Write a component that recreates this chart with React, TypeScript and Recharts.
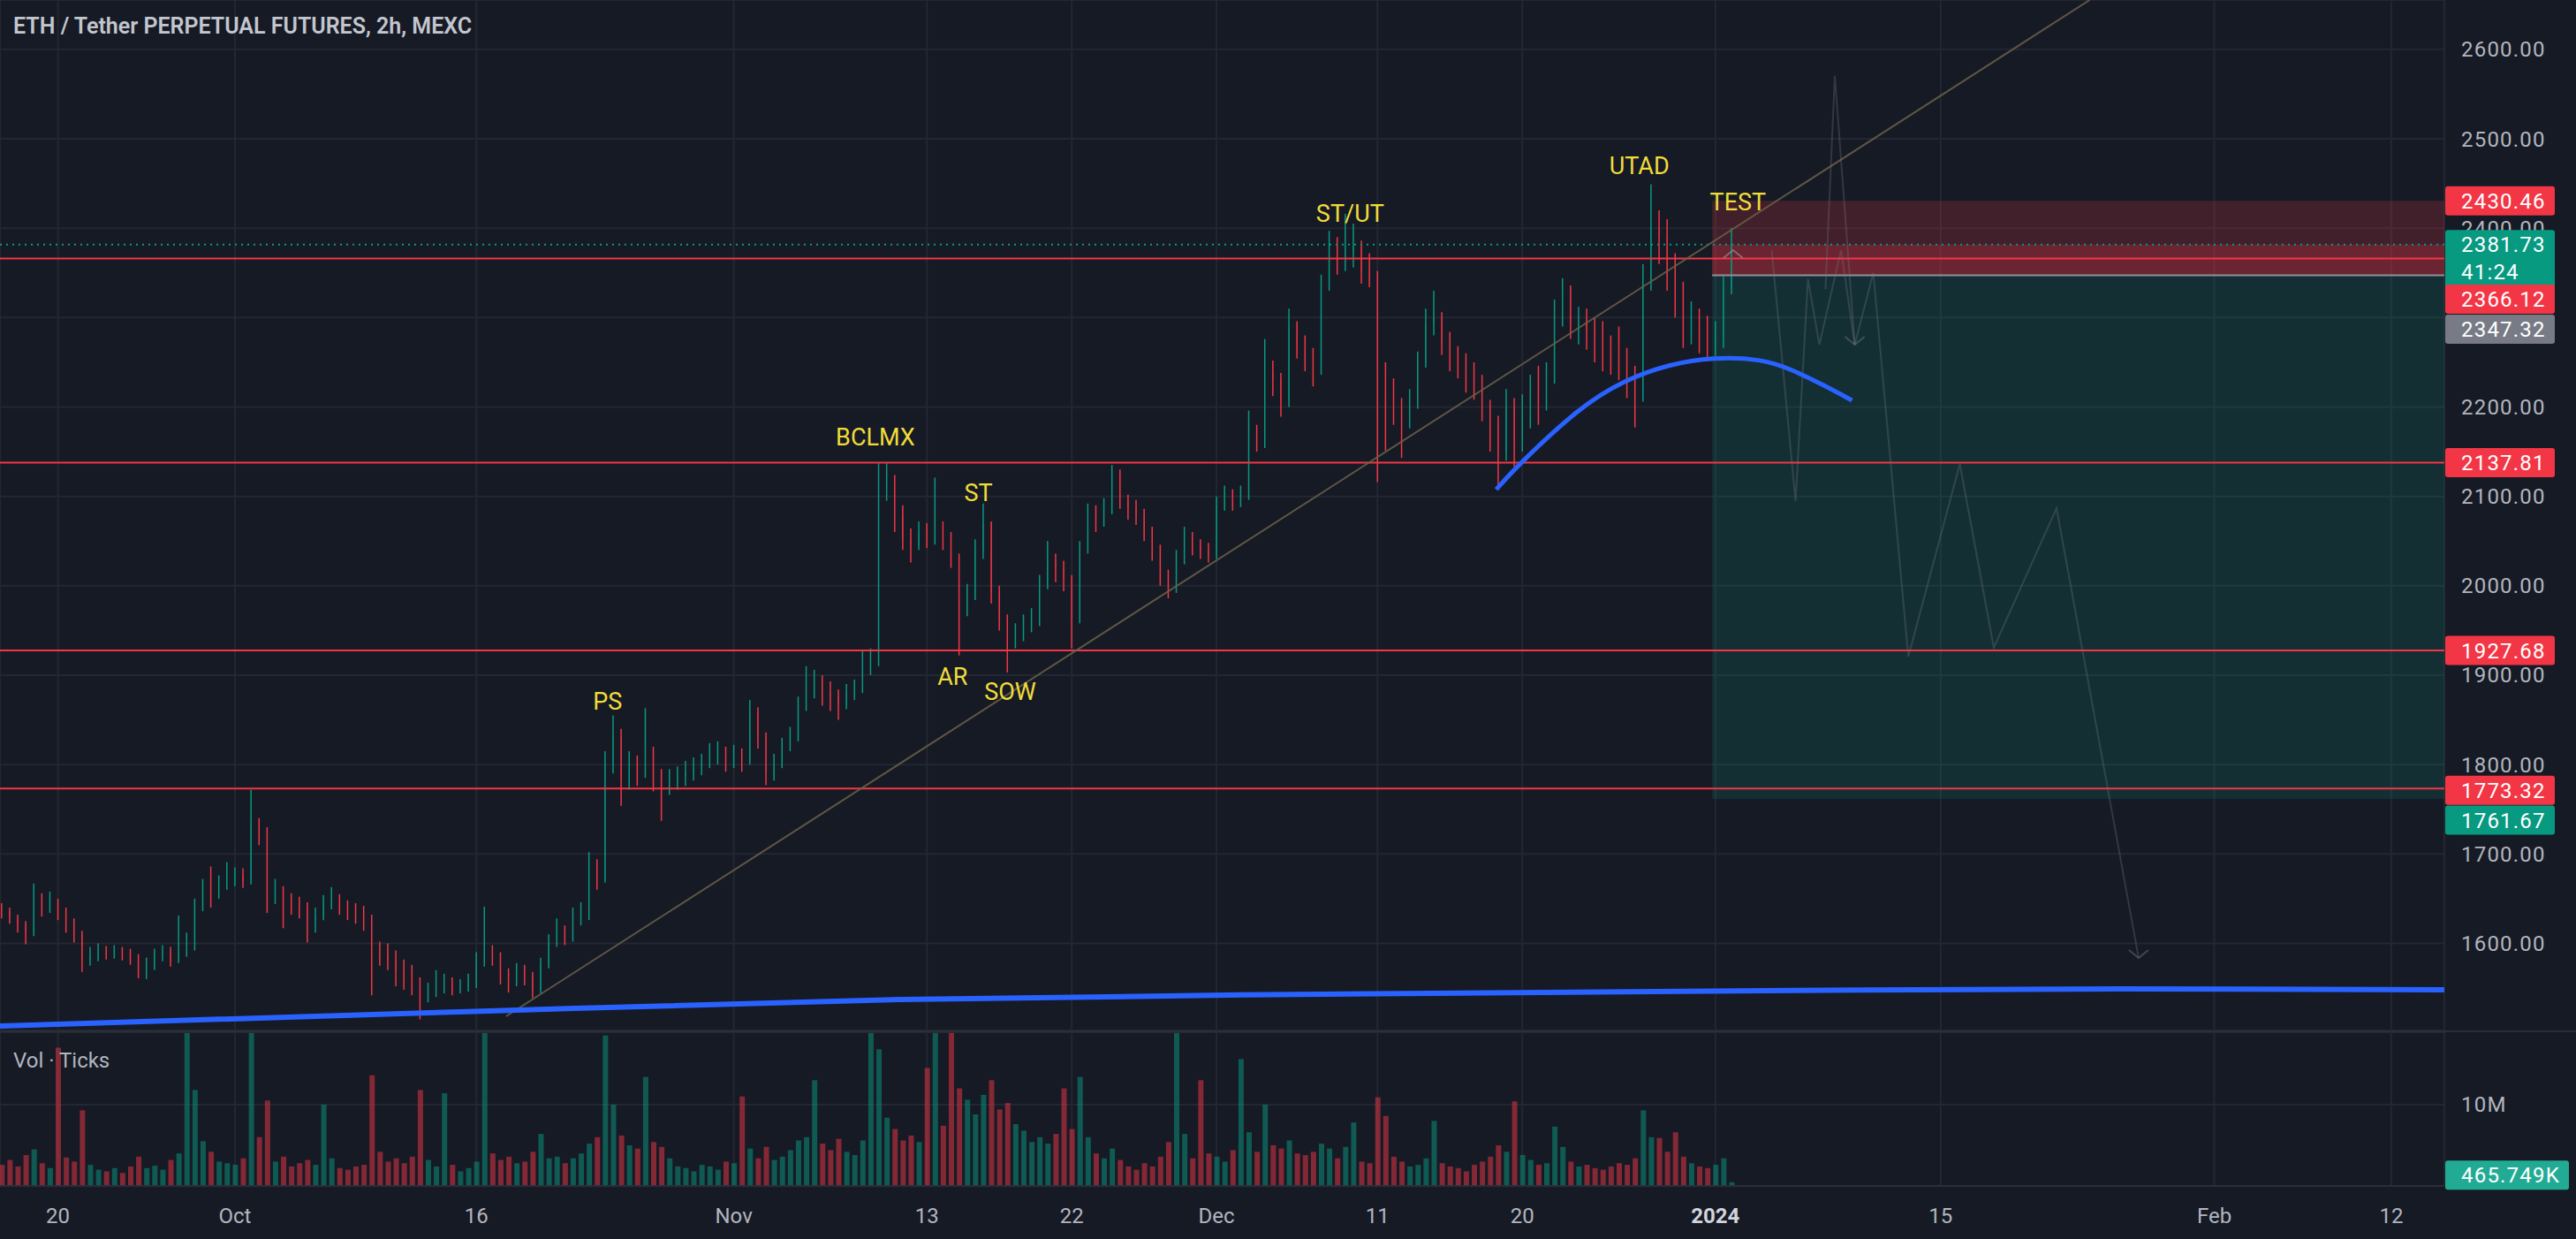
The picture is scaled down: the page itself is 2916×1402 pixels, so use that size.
import React from 'react'
import {
  Bar,
  CartesianGrid,
  ComposedChart,
  Line,
  ReferenceArea,
  ReferenceDot,
  ReferenceLine,
  XAxis,
  YAxis,
} from 'recharts'

// time axis: days counted from Oct 1 2023; one candle per 12h
const FIRST_BAR_DAY = -14.5
const BAR_STEP = 0.5
const FIRST_OPEN = 1640

const closes = [
  1636, 1628, 1620, 1612, 1650, 1640, 1646, 1636, 1622, 1610,
  1582, 1586, 1592, 1588, 1591, 1588, 1584, 1568, 1575, 1588,
  1590, 1580, 1592, 1598, 1640, 1662, 1654, 1668, 1672, 1676,
  1670, 1735, 1722, 1652, 1662, 1648, 1642, 1640, 1626, 1630,
  1646, 1650, 1640, 1636, 1632, 1628, 1592, 1588, 1580, 1570,
  1566, 1558, 1546, 1546, 1552, 1554, 1550, 1552, 1556, 1576,
  1590, 1584, 1568, 1556, 1568, 1564, 1548, 1576, 1600, 1610,
  1606, 1628, 1632, 1690, 1672, 1800, 1832, 1782, 1800, 1792,
  1815, 1786, 1772, 1782, 1786, 1792, 1796, 1802, 1810, 1815,
  1806, 1810, 1806, 1858, 1832, 1792, 1800, 1818, 1832, 1866,
  1886, 1890, 1880, 1876, 1866, 1880, 1886, 1906, 1916, 2112,
  2118, 2080, 2052, 2045, 2060, 2054, 2064, 2052, 2030, 1980,
  1986, 2040, 2070, 1992, 1962, 1942, 1946, 1958, 1962, 2000,
  2026, 2020, 2008, 1962, 2040, 2080, 2070, 2086, 2125, 2096,
  2086, 2080, 2062, 2040, 2010, 1996, 2030, 2055, 2046, 2040,
  2036, 2090, 2100, 2094, 2100, 2170, 2160, 2240, 2230, 2206,
  2290, 2270, 2258, 2240, 2340, 2376, 2364, 2372, 2380, 2352,
  2346, 2232, 2220, 2196, 2186, 2204, 2250, 2292, 2300, 2272,
  2256, 2246, 2232, 2226, 2200, 2170, 2150, 2200, 2162, 2190,
  2212, 2200, 2232, 2300, 2330, 2292, 2296, 2286, 2276, 2270,
  2266, 2256, 2230, 2216, 2340, 2400, 2390, 2350, 2330, 2290,
  2296, 2286, 2270, 2276, 2332, 2381.73,
]

const highs = [
  1645, 1640, 1632, 1625, 1667, 1656, 1658, 1650, 1640, 1628,
  1614, 1596, 1600, 1597, 1598, 1596, 1594, 1588, 1584, 1594,
  1598, 1596, 1631, 1612, 1650, 1672, 1686, 1676, 1691, 1685,
  1684, 1772, 1740, 1730, 1672, 1664, 1656, 1652, 1646, 1640,
  1654, 1663, 1655, 1648, 1645, 1642, 1632, 1602, 1600, 1592,
  1582, 1576, 1562, 1556, 1570, 1566, 1562, 1560, 1566, 1590,
  1641, 1598, 1590, 1572, 1578, 1576, 1568, 1584, 1610, 1628,
  1620, 1640, 1646, 1702, 1694, 1815, 1855, 1840, 1815, 1810,
  1863, 1820, 1795, 1795, 1798, 1804, 1808, 1812, 1824, 1826,
  1820, 1822, 1818, 1872, 1864, 1836, 1812, 1830, 1842, 1876,
  1910, 1906, 1900, 1893, 1884, 1890, 1895, 1928, 1930, 2137,
  2137, 2124, 2090, 2064, 2072, 2070, 2121, 2072, 2060, 2036,
  2002, 2052, 2092, 2072, 2000, 1968, 1958, 1968, 1975, 2012,
  2050, 2036, 2028, 2012, 2050, 2092, 2090, 2098, 2135, 2130,
  2102, 2096, 2086, 2066, 2046, 2018, 2040, 2066, 2060, 2052,
  2048, 2100, 2112, 2108, 2112, 2196, 2180, 2276, 2252, 2238,
  2310, 2296, 2280, 2266, 2348, 2397, 2390, 2416, 2405, 2386,
  2372, 2352, 2250, 2232, 2210, 2220, 2262, 2310, 2330, 2306,
  2284, 2268, 2260, 2250, 2236, 2208, 2190, 2220, 2210, 2214,
  2236, 2246, 2250, 2320, 2344, 2336, 2312, 2310, 2300, 2296,
  2280, 2290, 2266, 2246, 2360, 2449, 2420, 2410, 2372, 2340,
  2318, 2310, 2302, 2296, 2346, 2400,
]

const lows = [
  1628, 1622, 1612, 1599, 1608, 1630, 1634, 1626, 1612, 1601,
  1568, 1575, 1580, 1582, 1583, 1581, 1576, 1561, 1560, 1570,
  1580, 1574, 1578, 1585, 1592, 1636, 1640, 1650, 1660, 1664,
  1662, 1666, 1710, 1634, 1644, 1617, 1632, 1628, 1601, 1612,
  1626, 1638, 1632, 1626, 1622, 1614, 1542, 1575, 1570, 1552,
  1548, 1542, 1515, 1534, 1540, 1544, 1542, 1544, 1546, 1550,
  1574, 1575, 1554, 1545, 1552, 1553, 1539, 1544, 1572, 1596,
  1598, 1602, 1620, 1626, 1660, 1668, 1790, 1754, 1772, 1776,
  1785, 1770, 1737, 1766, 1772, 1776, 1782, 1788, 1796, 1800,
  1792, 1796, 1792, 1800, 1818, 1777, 1782, 1796, 1815, 1826,
  1860, 1874, 1866, 1860, 1850, 1862, 1872, 1880, 1900, 1910,
  2095, 2060, 2040, 2026, 2040, 2042, 2046, 2040, 2020, 1922,
  1966, 1984, 2030, 1980, 1950, 1903, 1930, 1938, 1948, 1955,
  1996, 2004, 1994, 1930, 1958, 2036, 2060, 2066, 2080, 2086,
  2074, 2068, 2050, 2028, 2000, 1986, 1992, 2024, 2034, 2030,
  2026, 2030, 2084, 2084, 2088, 2096, 2150, 2154, 2212, 2189,
  2200, 2254, 2240, 2223, 2236, 2330, 2348, 2352, 2356, 2338,
  2334, 2116, 2151, 2180, 2143, 2176, 2198, 2244, 2280, 2258,
  2240, 2232, 2216, 2208, 2184, 2150, 2113, 2140, 2133, 2150,
  2176, 2180, 2196, 2226, 2290, 2276, 2270, 2264, 2250, 2240,
  2236, 2230, 2210, 2177, 2206, 2330, 2360, 2330, 2300, 2266,
  2270, 2260, 2252, 2257, 2266, 2326,
]

// volume in millions
const volumes = [
  2.6, 3.2, 2.4, 3.8, 4.5, 2.8, 2.2, 17.0, 3.5, 3.0,
  9.3, 2.6, 2.0, 1.8, 2.2, 1.6, 2.4, 3.6, 2.2, 2.5,
  2.0, 3.2, 4.0, 18.8, 11.8, 5.5, 4.2, 3.0, 2.8, 2.6,
  3.4, 18.8, 6.0, 10.5, 3.0, 3.6, 2.4, 2.8, 3.2, 2.6,
  10.0, 3.4, 2.2, 2.0, 2.4, 2.6, 13.6, 4.2, 3.0, 3.4,
  2.8, 3.6, 11.8, 3.2, 2.4, 11.4, 2.6, 1.8, 2.2, 3.0,
  18.8, 4.0, 3.2, 3.6, 2.8, 3.0, 4.2, 6.4, 3.4, 3.6,
  2.8, 3.4, 4.0, 5.2, 6.0, 18.5, 10.0, 6.2, 5.0, 4.6,
  13.4, 5.4, 4.8, 3.4, 2.4, 2.2, 1.8, 2.6, 2.4, 2.0,
  3.0, 2.8, 11.0, 4.6, 3.4, 4.8, 3.2, 3.6, 4.4, 5.6,
  6.0, 13.0, 5.2, 4.4, 5.8, 4.2, 3.8, 5.6, 18.8, 16.8,
  8.4, 7.0, 5.6, 6.2, 5.4, 14.5, 18.8, 7.4, 18.8, 12.0,
  10.6, 8.8, 11.2, 13.0, 9.4, 10.2, 7.6, 6.8, 5.4, 6.0,
  5.2, 6.4, 12.0, 7.0, 13.4, 6.0, 4.0, 3.4, 4.6, 3.2,
  2.4, 2.0, 2.8, 2.4, 3.6, 5.4, 18.8, 6.4, 3.4, 13.0,
  4.0, 3.6, 3.0, 4.4, 15.6, 6.6, 4.2, 10.0, 5.0, 4.6,
  5.6, 4.0, 3.8, 4.2, 5.2, 4.6, 3.4, 4.8, 7.8, 3.0,
  2.8, 10.9, 8.6, 3.6, 3.0, 2.4, 2.6, 3.4, 8.0, 2.8,
  2.4, 2.2, 1.8, 2.6, 3.0, 3.6, 5.0, 4.2, 10.4, 3.8,
  3.2, 2.6, 2.8, 7.3, 4.8, 3.0, 2.4, 2.6, 2.2, 2.0,
  2.4, 2.8, 2.6, 3.4, 9.3, 6.0, 5.9, 4.2, 6.6, 3.6,
  2.8, 2.4, 2.2, 2.6, 3.4, 0.465749,
]

const dateTicks = [-11, 0, 15, 31, 43, 52, 61, 71, 80, 92, 106, 123, 134]
const dateLabels = ['20', 'Oct', '16', 'Nov', '13', '22', 'Dec', '11', '20', '2024', '15', 'Feb', '12']
const priceTicks = [1600, 1700, 1800, 1900, 2000, 2100, 2200, 2300, 2400, 2500, 2600]
// axis labels that sit under the price tags on the scale
const coveredTicks = [2300, 2400]
const peekingTick = 2400

const redLevels = [2366.12, 2137.81, 1927.68, 1773.32]
const stopPrice = 2430.46
const entryPrice = 2347.32
const targetPrice = 1761.67
const positionStart = 91.8
const countdown = '41:24'

const baseCurve = [
  { t: -14.6, p: 1507.6 }, { t: 13.94, p: 1523.4 }, { t: 41.38, p: 1537.2 },
  { t: 67.73, p: 1543.2 }, { t: 95.17, p: 1547.1 }, { t: 117.1, p: 1549.1 },
  { t: 137.3, p: 1548.1 },
]
const arcCurve = [
  { t: 78.38, p: 2107.6 }, { t: 79.64, p: 2133.3 }, { t: 83.53, p: 2199.5 },
  { t: 86.33, p: 2230.1 }, { t: 89.13, p: 2247.9 }, { t: 91.88, p: 2255.8 },
  { t: 94.84, p: 2253.9 }, { t: 96.76, p: 2242 }, { t: 98.74, p: 2224.2 },
  { t: 100.49, p: 2207.4 },
]
const trendLine = [{ t: 16.85, p: 1518.4 }, { t: 115.26, p: 2655.2 }]
const pathA = [
  { t: 95.5, p: 2375.4 }, { t: 96.98, p: 2094.7 }, { t: 97.75, p: 2343.2 },
  { t: 98.46, p: 2269.7 }, { t: 99.81, p: 2375.4 }, { t: 100.66, p: 2269.7 },
]
const pathB = [{ t: 98.84, p: 2331.9 }, { t: 99.42, p: 2570.4 }, { t: 100.66, p: 2269.7 }]
const pathC = [
  { t: 100.66, p: 2269.7 }, { t: 101.81, p: 2350 }, { t: 103.99, p: 1920.7 },
  { t: 107.19, p: 2136.2 }, { t: 109.3, p: 1930.6 }, { t: 113.2, p: 2086.8 },
  { t: 118.3, p: 1583.7 },
]
const arrowDown = [{ t: 100.66, p: 2269.7 }, { t: 118.3, p: 1583.7 }]
const arrowUp = { t: 93.1, p: 2375.4 }

const marks = [
  { t: 23.16, p: 1870.3, text: 'PS' },
  { t: 39.8, p: 2166.2, text: 'BCLMX' },
  { t: 46.2, p: 2103.6, text: 'ST' },
  { t: 44.6, p: 1898, text: 'AR' },
  { t: 48.17, p: 1881.2, text: 'SOW' },
  { t: 69.3, p: 2416.2, text: 'ST/UT' },
  { t: 87.27, p: 2469.5, text: 'UTAD' },
  { t: 93.4, p: 2429.1, text: 'TEST' },
]

const candles = closes.map((c, i) => ({
  t: FIRST_BAR_DAY + i * BAR_STEP,
  o: i === 0 ? FIRST_OPEN : closes[i - 1],
  h: highs[i],
  l: lows[i],
  c,
  range: [lows[i], highs[i]],
  v: volumes[i],
}))
const lastPrice = closes[closes.length - 1]
const lastVolume = volumes[volumes.length - 1]

const W = 2916
const PRICE_H = 1166
const VOL_H = 234
const AXIS_W = 149
const X_DOMAIN: [number, number] = [-14.6, 137.3]

const BG = '#161a25'
const GRID = '#232733'
const TEXT = '#b2b5be'
const UP = '#089981'
const DOWN = '#f23645'
const YELLOW = '#f0dc3a'
const BLUE = '#2962ff'
const FONT = 'Roboto, "Noto Sans", sans-serif'

function Candle(props: any) {
  const { x, y, width, height, payload } = props
  if (!payload || height == null) return <g />
  const top = Math.min(y, y + height)
  const span = Math.abs(height)
  const { o, c, h, l } = payload
  const k = span / (h - l || 1)
  const yo = top + (h - o) * k
  const yc = top + (h - c) * k
  const color = c >= o ? UP : DOWN
  const mid = x + width / 2
  return (
    <g>
      <line x1={mid} x2={mid} y1={top} y2={top + span} stroke={color} strokeWidth={1.5} />
      <rect
        x={x}
        y={Math.min(yo, yc)}
        width={width}
        height={Math.max(Math.abs(yc - yo), 1.5)}
        fill={color}
      />
    </g>
  )
}

function VolBar(props: any) {
  const { x, y, width, height, payload } = props
  if (!payload) return <g />
  const up = payload.c >= payload.o
  return (
    <rect
      x={x}
      y={Math.min(y, y + height)}
      width={width}
      height={Math.abs(height)}
      fill={up ? UP : DOWN}
      fillOpacity={0.5}
    />
  )
}

function priceTag(text: string, bg: string, opts: { shift?: number; sub?: string; w?: number } = {}) {
  const { shift = 0, sub, w = 124 } = opts
  return (props: any) => {
    const vb = props.viewBox || props
    const x = vb.x + vb.width + 1
    const cy = vb.y + shift
    return (
      <g>
        <rect x={x} y={cy - 16.5} width={w} height={sub ? 66 : 33} rx={3} fill={bg} />
        <text
          x={x + 18}
          y={cy}
          dy="0.36em"
          fill="#ffffff"
          fontSize={24}
          letterSpacing={1.2}
          fontFamily={FONT}
        >
          {text}
        </text>
        {sub && (
          <text
            x={x + 18}
            y={cy + 31}
            dy="0.36em"
            fill="#ffffff"
            fontSize={24}
            letterSpacing={1.2}
            fontFamily={FONT}
          >
            {sub}
          </text>
        )}
      </g>
    )
  }
}

// plain scale text drawn as a line label so the tags above can cover it
function scaleText(text: string) {
  return (props: any) => {
    const vb = props.viewBox || props
    return (
      <text
        x={vb.x + vb.width + 19}
        y={vb.y}
        dy="0.355em"
        fill={TEXT}
        fontSize={24}
        letterSpacing={1.2}
        fontFamily={FONT}
      >
        {text}
      </text>
    )
  }
}

function PriceTick(props: any) {
  const { x, y, payload } = props
  if (coveredTicks.includes(payload.value)) return <g />
  return (
    <text
      x={x}
      y={y}
      dy="0.355em"
      textAnchor="start"
      fill={TEXT}
      fontSize={24}
      letterSpacing={1.2}
      fontFamily={FONT}
    >
      {Number(payload.value).toFixed(2)}
    </text>
  )
}

function DateTick(props: any) {
  const { x, y, payload } = props
  const label = dateLabels[dateTicks.indexOf(payload.value)]
  const strong = label === '2024'
  return (
    <text
      x={x}
      y={y + 34}
      textAnchor="middle"
      dominantBaseline="central"
      fill={strong ? '#d1d4dc' : TEXT}
      fontSize={24}
      fontWeight={strong ? 700 : 400}
      fontFamily={FONT}
    >
      {label}
    </text>
  )
}

const chevronDown = (p: any) => (
  <polyline
    points={`${p.cx - 11},${p.cy - 9} ${p.cx},${p.cy} ${p.cx + 11},${p.cy - 9}`}
    fill="none"
    stroke="#787b86"
    strokeOpacity={0.45}
    strokeWidth={2}
  />
)
const chevronUp = (p: any) => (
  <polyline
    points={`${p.cx - 11},${p.cy + 9} ${p.cx},${p.cy} ${p.cx + 11},${p.cy + 9}`}
    fill="none"
    stroke="#9598a1"
    strokeOpacity={0.6}
    strokeWidth={2}
  />
)

export default function App() {
  return (
    <div
      style={{
        position: 'absolute',
        left: 0,
        top: 0,
        width: W,
        height: PRICE_H + 2 + VOL_H,
        background: BG,
        fontFamily: FONT,
        overflow: 'hidden',
      }}
    >
      <ComposedChart
        width={W}
        height={PRICE_H}
        data={candles}
        margin={{ top: 0, right: 0, bottom: 0, left: 0 }}
      >
        <CartesianGrid stroke={GRID} strokeWidth={2} />
        <XAxis
          dataKey="t"
          type="number"
          domain={X_DOMAIN}
          ticks={dateTicks}
          allowDataOverflow
          hide
        />
        <YAxis
          orientation="right"
          width={AXIS_W}
          domain={[1502.6, 2655.2]}
          ticks={priceTicks}
          allowDataOverflow
          axisLine={false}
          tickLine={false}
          tickSize={0}
          tickMargin={19}
          tick={PriceTick}
        />
        <ReferenceArea
          x1={positionStart}
          x2={X_DOMAIN[1]}
          y1={lastPrice}
          y2={stopPrice}
          fill={DOWN}
          fillOpacity={0.2}
          stroke="none"
        />
        <ReferenceArea
          x1={positionStart}
          x2={X_DOMAIN[1]}
          y1={entryPrice}
          y2={lastPrice}
          fill={DOWN}
          fillOpacity={0.39}
          stroke="none"
        />
        <ReferenceArea
          x1={positionStart}
          x2={X_DOMAIN[1]}
          y1={targetPrice}
          y2={entryPrice}
          fill={UP}
          fillOpacity={0.17}
          stroke="none"
        />
        <ReferenceLine
          segment={[
            { x: positionStart, y: entryPrice },
            { x: X_DOMAIN[1], y: entryPrice },
          ]}
          stroke="#8f929b"
          strokeWidth={2}
        />
        {redLevels.map((lv) => (
          <ReferenceLine key={lv} y={lv} stroke={DOWN} strokeWidth={2} />
        ))}
        <ReferenceLine
          y={lastPrice}
          stroke={UP}
          strokeWidth={2}
          strokeDasharray="2 5"
        />
        <Line
          data={trendLine}
          dataKey="p"
          type="linear"
          stroke="#6a6248"
          strokeOpacity={0.85}
          strokeWidth={2}
          dot={false}
          isAnimationActive={false}
        />
        {[pathA, pathB, pathC].map((path, i) => (
          <Line
            key={i}
            data={path}
            dataKey="p"
            type="linear"
            stroke="#787b86"
            strokeOpacity={0.3}
            strokeWidth={2}
            dot={false}
            isAnimationActive={false}
          />
        ))}
        <Bar dataKey="range" shape={Candle} barSize={5} isAnimationActive={false} />
        <Line
          data={baseCurve}
          dataKey="p"
          type="monotone"
          stroke={BLUE}
          strokeWidth={6}
          dot={false}
          isAnimationActive={false}
        />
        <Line
          data={arcCurve}
          dataKey="p"
          type="basis"
          stroke={BLUE}
          strokeWidth={5}
          dot={false}
          isAnimationActive={false}
        />
        {arrowDown.map((a, i) => (
          <ReferenceDot key={'ad' + i} x={a.t} y={a.p} r={0} shape={chevronDown} />
        ))}
        <ReferenceDot x={arrowUp.t} y={arrowUp.p} r={0} shape={chevronUp} />
        {marks.map((m) => (
          <ReferenceDot
            key={m.text}
            x={m.t}
            y={m.p}
            r={0}
            shape={(p: any) => (
              <text
                x={p.cx}
                y={p.cy}
                textAnchor="middle"
                dominantBaseline="central"
                fill={YELLOW}
                fontSize={27}
                fontFamily={FONT}
              >
                {m.text}
              </text>
            )}
          />
        ))}
        <ReferenceLine
          y={peekingTick}
          stroke="none"
          label={scaleText(peekingTick.toFixed(2))}
        />
        <ReferenceLine y={stopPrice} stroke="none" label={priceTag(stopPrice.toFixed(2), DOWN)} />
        <ReferenceLine
          y={lastPrice}
          stroke="none"
          label={priceTag(lastPrice.toFixed(2), UP, { sub: countdown })}
        />
        <ReferenceLine
          y={redLevels[0]}
          stroke="none"
          label={priceTag(redLevels[0].toFixed(2), DOWN, { shift: 46 })}
        />
        <ReferenceLine
          y={entryPrice}
          stroke="none"
          label={priceTag(entryPrice.toFixed(2), '#787b86', { shift: 61 })}
        />
        <ReferenceLine y={redLevels[1]} stroke="none" label={priceTag(redLevels[1].toFixed(2), DOWN)} />
        <ReferenceLine y={redLevels[2]} stroke="none" label={priceTag(redLevels[2].toFixed(2), DOWN)} />
        <ReferenceLine
          y={redLevels[3]}
          stroke="none"
          label={priceTag(redLevels[3].toFixed(2), DOWN, { shift: 2 })}
        />
        <ReferenceLine
          y={targetPrice}
          stroke="none"
          label={priceTag(targetPrice.toFixed(2), UP, { shift: 24 })}
        />
      </ComposedChart>

      <div style={{ height: 2, background: '#2a2e39' }} />

      <ComposedChart
        width={W}
        height={VOL_H}
        data={candles}
        margin={{ top: 0, right: 0, bottom: 0, left: 0 }}
      >
        <CartesianGrid stroke={GRID} strokeWidth={2} />
        <XAxis
          dataKey="t"
          type="number"
          domain={X_DOMAIN}
          ticks={dateTicks}
          allowDataOverflow
          height={60}
          axisLine={{ stroke: '#2a2e39', strokeWidth: 2 }}
          tickLine={false}
          tickSize={0}
          tickMargin={0}
          tick={DateTick}
        />
        <YAxis
          orientation="right"
          width={AXIS_W}
          domain={[0, 18.9]}
          ticks={[10]}
          allowDataOverflow
          axisLine={false}
          tickLine={false}
          tickSize={0}
          tickMargin={19}
          tickFormatter={() => '10M'}
          tick={{ fill: TEXT, fontSize: 24, letterSpacing: 1.2 }}
        />
        <Bar dataKey="v" shape={VolBar} barSize={6} isAnimationActive={false} />
        <ReferenceLine
          y={lastVolume}
          stroke="none"
          label={priceTag((lastVolume * 1000).toFixed(3) + 'K', '#22ab94', { shift: -8, w: 140 })}
        />
      </ComposedChart>

      <div
        style={{
          position: 'absolute',
          left: 15,
          top: 14,
          fontSize: 25,
          fontWeight: 600,
          color: '#c3c6ce',
          lineHeight: '32px',
        }}
      >
        ETH / Tether PERPETUAL FUTURES, 2h, MEXC
      </div>
      <div
        style={{
          position: 'absolute',
          left: 15,
          top: 1185,
          fontSize: 24,
          color: TEXT,
          lineHeight: '30px',
        }}
      >
        Vol · Ticks
      </div>
    </div>
  )
}
